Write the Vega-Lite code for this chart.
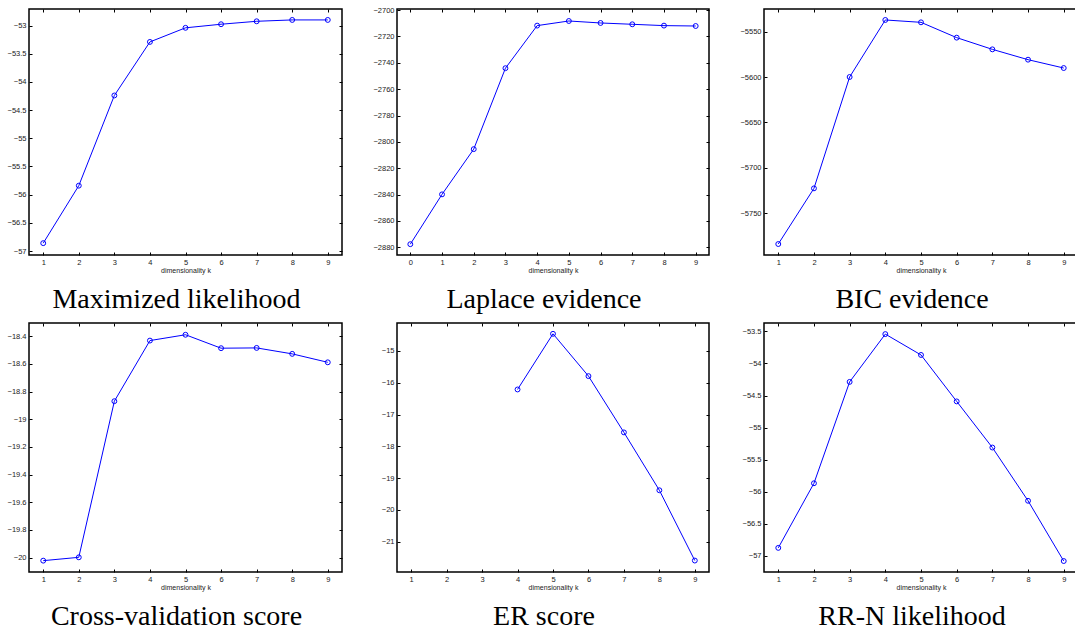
{
  "$schema": "https://vega.github.io/schema/vega-lite/v6.json",
  "background": "white",
  "padding": {"left": 6, "top": 5, "right": 0, "bottom": 0},
  "data": {"values": [
    {"panel": "ml", "k": 1, "v": -56.86}, {"panel": "ml", "k": 2, "v": -55.84}, {"panel": "ml", "k": 3, "v": -54.24},
    {"panel": "ml", "k": 4, "v": -53.29}, {"panel": "ml", "k": 5, "v": -53.04}, {"panel": "ml", "k": 6, "v": -52.976},
    {"panel": "ml", "k": 7, "v": -52.924}, {"panel": "ml", "k": 8, "v": -52.90}, {"panel": "ml", "k": 9, "v": -52.90},
    {"panel": "lap", "k": 0, "v": -2877.6}, {"panel": "lap", "k": 1, "v": -2839.8}, {"panel": "lap", "k": 2, "v": -2805.5},
    {"panel": "lap", "k": 3, "v": -2744.1}, {"panel": "lap", "k": 4, "v": -2711.8}, {"panel": "lap", "k": 5, "v": -2708.3},
    {"panel": "lap", "k": 6, "v": -2709.8}, {"panel": "lap", "k": 7, "v": -2710.8}, {"panel": "lap", "k": 8, "v": -2711.8},
    {"panel": "lap", "k": 9, "v": -2712.1},
    {"panel": "bic", "k": 1, "v": -5784.2}, {"panel": "bic", "k": 2, "v": -5722.8}, {"panel": "bic", "k": 3, "v": -5600.0},
    {"panel": "bic", "k": 4, "v": -5537.1}, {"panel": "bic", "k": 5, "v": -5539.7}, {"panel": "bic", "k": 6, "v": -5556.6},
    {"panel": "bic", "k": 7, "v": -5569.5}, {"panel": "bic", "k": 8, "v": -5580.9}, {"panel": "bic", "k": 9, "v": -5590.1},
    {"panel": "cv", "k": 1, "v": -20.022}, {"panel": "cv", "k": 2, "v": -19.998}, {"panel": "cv", "k": 3, "v": -18.87},
    {"panel": "cv", "k": 4, "v": -18.432}, {"panel": "cv", "k": 5, "v": -18.39}, {"panel": "cv", "k": 6, "v": -18.487},
    {"panel": "cv", "k": 7, "v": -18.485}, {"panel": "cv", "k": 8, "v": -18.528}, {"panel": "cv", "k": 9, "v": -18.589},
    {"panel": "er", "k": 4, "v": -16.21}, {"panel": "er", "k": 5, "v": -14.46}, {"panel": "er", "k": 6, "v": -15.79},
    {"panel": "er", "k": 7, "v": -17.56}, {"panel": "er", "k": 8, "v": -19.38}, {"panel": "er", "k": 9, "v": -21.59},
    {"panel": "rrn", "k": 1, "v": -56.874}, {"panel": "rrn", "k": 2, "v": -55.867}, {"panel": "rrn", "k": 3, "v": -54.287},
    {"panel": "rrn", "k": 4, "v": -53.542}, {"panel": "rrn", "k": 5, "v": -53.867}, {"panel": "rrn", "k": 6, "v": -54.591},
    {"panel": "rrn", "k": 7, "v": -55.31}, {"panel": "rrn", "k": 8, "v": -56.14}, {"panel": "rrn", "k": 9, "v": -57.079}
  ]},
  "columns": 3,
  "align": "each",
  "bounds": "flush",
  "spacing": {"row": 68, "column": 55},
  "concat": [
    {
      "title": {"text": "Maximized likelihood", "orient": "bottom"},
      "width": 313, "height": 246,
      "transform": [{"filter": "datum.panel === 'ml'"}],
      "layer": [
        {"mark": {"type": "line", "color": "#0000ff", "strokeWidth": 1},
         "encoding": {
           "x": {"field": "k", "type": "quantitative", "scale": {"domain": [0.6, 9.4], "nice": false, "zero": false}, "axis": {"orient": "bottom", "values": [1,2,3,4,5,6,7,8,9], "title": "dimensionality k"}},
           "y": {"field": "v", "type": "quantitative", "scale": {"domain": [-57.07, -52.706], "nice": false, "zero": false}, "axis": {"orient": "left", "values": [-57,-56.5,-56,-55.5,-55,-54.5,-54,-53.5,-53], "format": "~f", "title": null}}
         }},
        {"mark": {"type": "point", "shape": "circle", "filled": false, "color": "#0000ff", "size": 24, "strokeWidth": 1, "opacity": 1},
         "encoding": {
           "x": {"field": "k", "type": "quantitative", "scale": {"domain": [0.6, 9.4], "nice": false, "zero": false}, "axis": {"orient": "top", "values": [1,2,3,4,5,6,7,8,9], "labels": false, "title": null}},
           "y": {"field": "v", "type": "quantitative", "scale": {"domain": [-57.07, -52.706], "nice": false, "zero": false}, "axis": {"orient": "right", "values": [-57,-56.5,-56,-55.5,-55,-54.5,-54,-53.5,-53], "labels": false, "title": null}}
         }}
      ],
      "resolve": {"axis": {"x": "independent", "y": "independent"}}
    },
    {
      "title": {"text": "Laplace evidence", "orient": "bottom"},
      "width": 312, "height": 246,
      "transform": [{"filter": "datum.panel === 'lap'"}],
      "layer": [
        {"mark": {"type": "line", "color": "#0000ff", "strokeWidth": 1},
         "encoding": {
           "x": {"field": "k", "type": "quantitative", "scale": {"domain": [-0.42, 9.42], "nice": false, "zero": false}, "axis": {"orient": "bottom", "values": [0,1,2,3,4,5,6,7,8,9], "title": "dimensionality k"}},
           "y": {"field": "v", "type": "quantitative", "scale": {"domain": [-2885.8, -2699.2], "nice": false, "zero": false}, "axis": {"orient": "left", "values": [-2880,-2860,-2840,-2820,-2800,-2780,-2760,-2740,-2720,-2700], "format": "~f", "title": null}}
         }},
        {"mark": {"type": "point", "shape": "circle", "filled": false, "color": "#0000ff", "size": 24, "strokeWidth": 1, "opacity": 1},
         "encoding": {
           "x": {"field": "k", "type": "quantitative", "scale": {"domain": [-0.42, 9.42], "nice": false, "zero": false}, "axis": {"orient": "top", "values": [0,1,2,3,4,5,6,7,8,9], "labels": false, "title": null}},
           "y": {"field": "v", "type": "quantitative", "scale": {"domain": [-2885.8, -2699.2], "nice": false, "zero": false}, "axis": {"orient": "right", "values": [-2880,-2860,-2840,-2820,-2800,-2780,-2760,-2740,-2720,-2700], "labels": false, "title": null}}
         }}
      ],
      "resolve": {"axis": {"x": "independent", "y": "independent"}}
    },
    {
      "title": {"text": "BIC evidence", "orient": "bottom"},
      "width": 314, "height": 246,
      "transform": [{"filter": "datum.panel === 'bic'"}],
      "layer": [
        {"mark": {"type": "line", "color": "#0000ff", "strokeWidth": 1},
         "encoding": {
           "x": {"field": "k", "type": "quantitative", "scale": {"domain": [0.6, 9.4], "nice": false, "zero": false}, "axis": {"orient": "bottom", "values": [1,2,3,4,5,6,7,8,9], "title": "dimensionality k"}},
           "y": {"field": "v", "type": "quantitative", "scale": {"domain": [-5796.3, -5525], "nice": false, "zero": false}, "axis": {"orient": "left", "values": [-5750,-5700,-5650,-5600,-5550], "format": "~f", "title": null}}
         }},
        {"mark": {"type": "point", "shape": "circle", "filled": false, "color": "#0000ff", "size": 24, "strokeWidth": 1, "opacity": 1},
         "encoding": {
           "x": {"field": "k", "type": "quantitative", "scale": {"domain": [0.6, 9.4], "nice": false, "zero": false}, "axis": {"orient": "top", "values": [1,2,3,4,5,6,7,8,9], "labels": false, "title": null}},
           "y": {"field": "v", "type": "quantitative", "scale": {"domain": [-5796.3, -5525], "nice": false, "zero": false}, "axis": {"orient": "right", "values": [-5750,-5700,-5650,-5600,-5550], "labels": false, "title": null}}
         }}
      ],
      "resolve": {"axis": {"x": "independent", "y": "independent"}}
    },
    {
      "title": {"text": "Cross-validation score", "orient": "bottom"},
      "width": 313, "height": 249,
      "transform": [{"filter": "datum.panel === 'cv'"}],
      "layer": [
        {"mark": {"type": "line", "color": "#0000ff", "strokeWidth": 1},
         "encoding": {
           "x": {"field": "k", "type": "quantitative", "scale": {"domain": [0.6, 9.4], "nice": false, "zero": false}, "axis": {"orient": "bottom", "values": [1,2,3,4,5,6,7,8,9], "title": "dimensionality k"}},
           "y": {"field": "v", "type": "quantitative", "scale": {"domain": [-20.104, -18.305], "nice": false, "zero": false}, "axis": {"orient": "left", "values": [-20,-19.8,-19.6,-19.4,-19.2,-19,-18.8,-18.6,-18.4], "format": "~f", "title": null}}
         }},
        {"mark": {"type": "point", "shape": "circle", "filled": false, "color": "#0000ff", "size": 24, "strokeWidth": 1, "opacity": 1},
         "encoding": {
           "x": {"field": "k", "type": "quantitative", "scale": {"domain": [0.6, 9.4], "nice": false, "zero": false}, "axis": {"orient": "top", "values": [1,2,3,4,5,6,7,8,9], "labels": false, "title": null}},
           "y": {"field": "v", "type": "quantitative", "scale": {"domain": [-20.104, -18.305], "nice": false, "zero": false}, "axis": {"orient": "right", "values": [-20,-19.8,-19.6,-19.4,-19.2,-19,-18.8,-18.6,-18.4], "labels": false, "title": null}}
         }}
      ],
      "resolve": {"axis": {"x": "independent", "y": "independent"}}
    },
    {
      "title": {"text": "ER score", "orient": "bottom"},
      "width": 312, "height": 249,
      "transform": [{"filter": "datum.panel === 'er'"}],
      "layer": [
        {"mark": {"type": "line", "color": "#0000ff", "strokeWidth": 1},
         "encoding": {
           "x": {"field": "k", "type": "quantitative", "scale": {"domain": [0.6, 9.4], "nice": false, "zero": false}, "axis": {"orient": "bottom", "values": [1,2,3,4,5,6,7,8,9], "title": "dimensionality k"}},
           "y": {"field": "v", "type": "quantitative", "scale": {"domain": [-21.95, -14.12], "nice": false, "zero": false}, "axis": {"orient": "left", "values": [-21,-20,-19,-18,-17,-16,-15], "format": "~f", "title": null}}
         }},
        {"mark": {"type": "point", "shape": "circle", "filled": false, "color": "#0000ff", "size": 24, "strokeWidth": 1, "opacity": 1},
         "encoding": {
           "x": {"field": "k", "type": "quantitative", "scale": {"domain": [0.6, 9.4], "nice": false, "zero": false}, "axis": {"orient": "top", "values": [1,2,3,4,5,6,7,8,9], "labels": false, "title": null}},
           "y": {"field": "v", "type": "quantitative", "scale": {"domain": [-21.95, -14.12], "nice": false, "zero": false}, "axis": {"orient": "right", "values": [-21,-20,-19,-18,-17,-16,-15], "labels": false, "title": null}}
         }}
      ],
      "resolve": {"axis": {"x": "independent", "y": "independent"}}
    },
    {
      "title": {"text": "RR-N likelihood", "orient": "bottom"},
      "width": 314, "height": 249,
      "transform": [{"filter": "datum.panel === 'rrn'"}],
      "layer": [
        {"mark": {"type": "line", "color": "#0000ff", "strokeWidth": 1},
         "encoding": {
           "x": {"field": "k", "type": "quantitative", "scale": {"domain": [0.6, 9.4], "nice": false, "zero": false}, "axis": {"orient": "bottom", "values": [1,2,3,4,5,6,7,8,9], "title": "dimensionality k"}},
           "y": {"field": "v", "type": "quantitative", "scale": {"domain": [-57.25, -53.369], "nice": false, "zero": false}, "axis": {"orient": "left", "values": [-57,-56.5,-56,-55.5,-55,-54.5,-54,-53.5], "format": "~f", "title": null}}
         }},
        {"mark": {"type": "point", "shape": "circle", "filled": false, "color": "#0000ff", "size": 24, "strokeWidth": 1, "opacity": 1},
         "encoding": {
           "x": {"field": "k", "type": "quantitative", "scale": {"domain": [0.6, 9.4], "nice": false, "zero": false}, "axis": {"orient": "top", "values": [1,2,3,4,5,6,7,8,9], "labels": false, "title": null}},
           "y": {"field": "v", "type": "quantitative", "scale": {"domain": [-57.25, -53.369], "nice": false, "zero": false}, "axis": {"orient": "right", "values": [-57,-56.5,-56,-55.5,-55,-54.5,-54,-53.5], "labels": false, "title": null}}
         }}
      ],
      "resolve": {"axis": {"x": "independent", "y": "independent"}}
    }
  ],
  "config": {
    "view": {"stroke": "#000000", "strokeWidth": 1.5},
    "axis": {
      "grid": false, "domain": false,
      "tickSize": -3, "tickColor": "#000000", "tickWidth": 1,
      "labelFont": "Liberation Sans", "labelFontSize": 7.5, "labelColor": "#222222", "labelPadding": 6,
      "titleFont": "Liberation Sans", "titleFontSize": 7, "titleFontWeight": "normal", "titleColor": "#222222", "titlePadding": 1
    },
    "title": {"font": "Liberation Serif", "fontSize": 28, "fontWeight": "normal", "color": "#000000", "orient": "bottom", "offset": 12, "dx": -9}
  }
}
